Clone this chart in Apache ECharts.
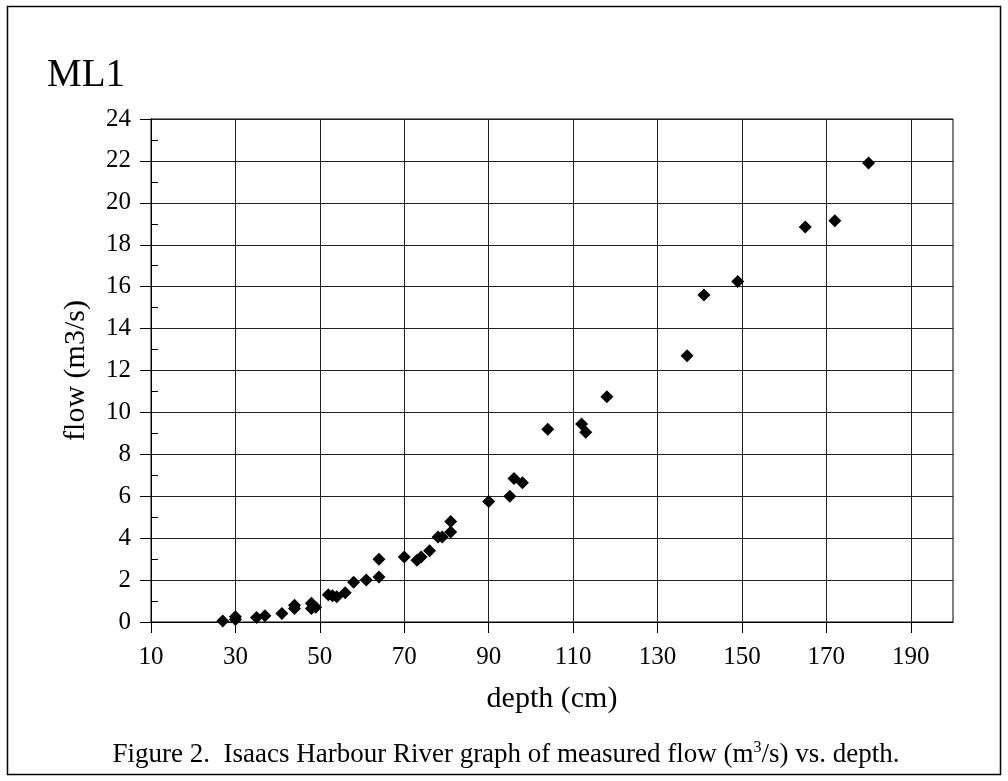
<!DOCTYPE html>
<html>
<head>
<meta charset="utf-8">
<title>ML1 flow vs depth</title>
<script src="https://cdn.jsdelivr.net/npm/echarts@6/dist/echarts.min.js"></script>
<style>
  html, body { margin: 0; padding: 0; background: #fff; }
  #chart { width: 1008px; height: 781px; }
</style>
</head>
<body>
<div id="chart"></div>
<script>
// measured points
var depth = [27, 30, 30, 35, 37, 41, 44, 44, 48, 48, 49, 52, 53, 54, 56, 58, 61, 64, 64, 70,
  73, 74, 76, 78, 79, 81, 81, 90, 95, 96, 98, 104, 112, 113, 118, 137, 141, 149, 165, 172, 180];
var flow = [0.05, 0.25, 0.12, 0.22, 0.3, 0.4, 0.8, 0.65, 0.9, 0.65, 0.7, 1.3, 1.25, 1.2, 1.4, 1.9, 2.0, 2.15, 3.0, 3.1,
  2.95, 3.1, 3.4, 4.05, 4.05, 4.8, 4.3, 5.75, 6.0, 6.85, 6.65, 9.2, 9.45, 9.05, 10.75, 12.7, 15.6, 16.25, 18.85, 19.15, 21.9];

// tick labels
var xTickLabels = [10, 30, 50, 70, 90, 110, 130, 150, 170, 190];
var yMinorTicks = [1, 3, 5, 7, 9, 11, 13, 15, 17, 19, 21, 23];

var points = depth.map(function (d, i) { return [d, flow[i]]; });

var serif = '"Liberation Serif", "DejaVu Serif", serif';
var black = '#000';

var chart = echarts.init(document.getElementById('chart'), null, { renderer: 'canvas' });

var option = {
  animation: false,
  backgroundColor: '#fff',
  grid: {
    left: 151, right: 55, top: 119, bottom: 159,
    containLabel: false,
    show: true, borderColor: black, borderWidth: 1
  },
  xAxis: [{
    type: 'value',
    min: 10, max: 200, interval: 10,
    name: 'depth (cm)',
    nameLocation: 'middle',
    nameGap: 62,
    nameTextStyle: { fontFamily: serif, fontSize: 30, color: black },
    axisLine: { show: true, onZero: false, lineStyle: { color: black, width: 1 } },
    axisTick: { show: true, length: 11, customValues: xTickLabels, lineStyle: { color: black } },
    axisLabel: {
      customValues: xTickLabels,
      margin: 23,
      fontFamily: serif, fontSize: 25, color: black
    },
    splitLine: { show: true, lineStyle: { color: '#222', width: 1 } }
  }],
  yAxis: [{
    type: 'value',
    min: 0, max: 24, interval: 2,
    name: 'flow (m3/s)',
    nameLocation: 'middle',
    nameGap: 60,
    nameTextStyle: { fontFamily: serif, fontSize: 30, color: black },
    axisLine: { show: true, onZero: false, lineStyle: { color: black, width: 1 } },
    axisTick: { show: true, length: 11, lineStyle: { color: black } },
    axisLabel: { margin: 20, fontFamily: serif, fontSize: 25, color: black },
    splitLine: { show: true, lineStyle: { color: '#222', width: 1 } }
  }, {
    // second axis on the same side, only for the short inner ticks at odd values
    type: 'value',
    position: 'left',
    min: 0, max: 24, interval: 1,
    axisLine: { show: true, onZero: false, lineStyle: { color: black, width: 1 } },
    axisTick: { show: true, inside: true, length: 7, customValues: yMinorTicks, lineStyle: { color: black } },
    axisLabel: { show: false },
    splitLine: { show: false }
  }],
  series: [{
    type: 'scatter',
    xAxisIndex: 0,
    yAxisIndex: 0,
    symbol: 'diamond',
    symbolSize: 13,
    itemStyle: { color: black, opacity: 1 },
    data: points
  }],
  graphic: [{
    type: 'rect',
    shape: { x: 7.5, y: 6.5, width: 993, height: 768 },
    style: { fill: null, stroke: black, lineWidth: 1.5 },
    silent: true
  }, {
    type: 'text',
    left: 47, top: 56,
    style: { text: 'ML1', font: '39px ' + serif, fill: black }
  }, {
    type: 'text',
    x: 506, y: 755,
    style: {
      text: '{t|Figure 2.  Isaacs Harbour River graph of measured flow (m}{s|3}{t|/s) vs. depth.}',
      align: 'center',
      verticalAlign: 'middle',
      rich: {
        t: { fontFamily: serif, fontSize: 27, fill: black, lineHeight: 30 },
        s: { fontFamily: serif, fontSize: 16, fill: black, lineHeight: 30, verticalAlign: 'top', padding: [0, 0, 9, 0] }
      }
    }
  }]
};

chart.setOption(option);
</script>
</body>
</html>
